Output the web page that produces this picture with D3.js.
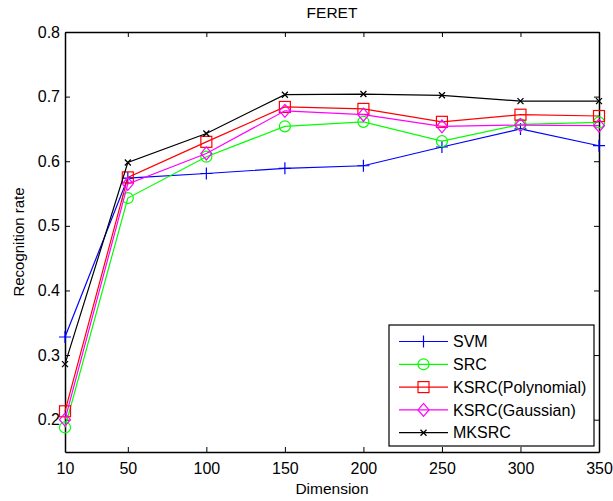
<!DOCTYPE html>
<html lang="en">
<head>
<meta charset="UTF-8">
<title>FERET</title>
<script src="https://d3js.org/d3.v7.min.js"></script>
<style>
  body { margin: 0; background: #fff; }
  svg text { font-family: "Liberation Sans", Arial, sans-serif; fill: #000; }
</style>
</head>
<body>
<div id="chart"></div>
<script>
// data
const dims = [10, 50, 100, 150, 200, 250, 300, 350];
const xTicks = [10, 50, 100, 150, 200, 250, 300, 350];
const yTicks = [0.2, 0.3, 0.4, 0.5, 0.6, 0.7, 0.8];

const svmVals   = [0.328, 0.574, 0.581, 0.589, 0.593, 0.622, 0.650, 0.624];
const srcVals   = [0.188, 0.543, 0.607, 0.654, 0.661, 0.631, 0.657, 0.660];
const polyVals  = [0.213, 0.575, 0.630, 0.684, 0.681, 0.661, 0.672, 0.670];
const gaussVals = [0.200, 0.565, 0.612, 0.678, 0.672, 0.654, 0.656, 0.655];
const mkVals    = [0.286, 0.598, 0.643, 0.703, 0.704, 0.702, 0.693, 0.693];

const seriesNames = ['SVM', 'SRC', 'KSRC(Polynomial)', 'KSRC(Gaussian)', 'MKSRC'];
const seriesVals  = [svmVals, srcVals, polyVals, gaussVals, mkVals];
const seriesColors = ['#0000ff', '#00ff00', '#ff0000', '#ff00ff', '#000000'];
const seriesMarks  = ['plus', 'circle', 'square', 'diamond', 'cross'];

const W = 613, H = 501;
const m = {left: 65, right: 14, top: 32, bottom: 49};

const svg = d3.select('#chart').append('svg')
  .attr('width', W).attr('height', H);

const x = d3.scaleLinear().domain([10, 350]).range([m.left, W - m.right]);
const y = d3.scaleLinear().domain([0.15, 0.8]).range([H - m.bottom, m.top]);

const fs = 16;     // tick + legend text
const fsLab = 15.5; // title, axis labels

// axes with inward ticks, matlab style box
const tk = 5;
const fmtY = d => d.toFixed(1);
svg.append('g').attr('transform', `translate(0,${y(0.15)})`)
  .call(d3.axisBottom(x).tickValues(xTicks).tickSize(-tk).tickPadding(11).tickSizeOuter(0))
  .call(g => g.selectAll('text').attr('font-size', fs));
svg.append('g').attr('transform', `translate(0,${y(0.8)})`)
  .call(d3.axisTop(x).tickValues(xTicks).tickSize(-tk).tickFormat('').tickSizeOuter(0));
svg.append('g').attr('transform', `translate(${x(10)},0)`)
  .call(d3.axisLeft(y).tickValues(yTicks).tickFormat(fmtY).tickSize(-tk).tickPadding(5).tickSizeOuter(0))
  .call(g => g.selectAll('text').attr('font-size', fs));
svg.append('g').attr('transform', `translate(${x(350)},0)`)
  .call(d3.axisRight(y).tickValues(yTicks).tickSize(-tk).tickFormat('').tickSizeOuter(0));
svg.selectAll('.domain').attr('stroke', '#000').attr('stroke-width', 1.5);
svg.selectAll('.tick line').attr('stroke', '#000');

// labels
svg.append('text').attr('x', (x(10) + x(350)) / 2).attr('y', 18)
  .attr('text-anchor', 'middle').attr('font-size', fsLab).text('FERET');
svg.append('text').attr('x', (x(10) + x(350)) / 2).attr('y', 494)
  .attr('text-anchor', 'middle').attr('font-size', fsLab).text('Dimension');
svg.append('text')
  .attr('transform', `translate(24,${(y(0.15) + y(0.8)) / 2}) rotate(-90)`)
  .attr('text-anchor', 'middle').attr('font-size', 15).text('Recognition rate');

function drawMarker(g, kind, cx, cy, color) {
  if (kind === 'plus') {
    g.append('path').attr('d', `M${cx-6},${cy}H${cx+6}M${cx},${cy-6}V${cy+6}`)
      .attr('stroke', color).attr('stroke-width', 1.2).attr('fill', 'none');
  } else if (kind === 'circle') {
    g.append('circle').attr('cx', cx).attr('cy', cy).attr('r', 5.5)
      .attr('stroke', color).attr('stroke-width', 1.2).attr('fill', 'none');
  } else if (kind === 'square') {
    g.append('rect').attr('x', cx - 5.5).attr('y', cy - 5.5).attr('width', 11).attr('height', 11)
      .attr('stroke', color).attr('stroke-width', 1.2).attr('fill', 'none');
  } else if (kind === 'diamond') {
    g.append('path').attr('d', `M${cx},${cy-6.5}L${cx+5.5},${cy}L${cx},${cy+6.5}L${cx-5.5},${cy}Z`)
      .attr('stroke', color).attr('stroke-width', 1.2).attr('fill', 'none');
  } else {
    g.append('path').attr('d', `M${cx-3},${cy-3}L${cx+3},${cy+3}M${cx-3},${cy+3}L${cx+3},${cy-3}`)
      .attr('stroke', color).attr('stroke-width', 1.3).attr('fill', 'none');
  }
}

const line = d3.line().x((d, i) => x(dims[i])).y(d => y(d));

seriesVals.forEach((vals, s) => {
  const g = svg.append('g');
  g.append('path').datum(vals).attr('d', line)
    .attr('fill', 'none').attr('stroke', seriesColors[s]).attr('stroke-width', 1.2);
  vals.forEach((v, i) => drawMarker(g, seriesMarks[s], x(dims[i]), y(v), seriesColors[s]));
});

// legend
const lg = svg.append('g');
lg.append('rect').attr('x', 389).attr('y', 325).attr('width', 205).attr('height', 121)
  .attr('fill', '#fff').attr('stroke', '#000').attr('stroke-width', 1.2);
seriesNames.forEach((name, s) => {
  const ly = 341.5 + s * 22.8;
  lg.append('line').attr('x1', 399).attr('x2', 448).attr('y1', ly).attr('y2', ly)
    .attr('stroke', seriesColors[s]).attr('stroke-width', 1.2);
  drawMarker(lg, seriesMarks[s], 423.5, ly, seriesColors[s]);
  lg.append('text').attr('x', 453).attr('y', ly).attr('dy', '0.36em')
    .attr('font-size', fs).text(name);
});
</script>
</body>
</html>
